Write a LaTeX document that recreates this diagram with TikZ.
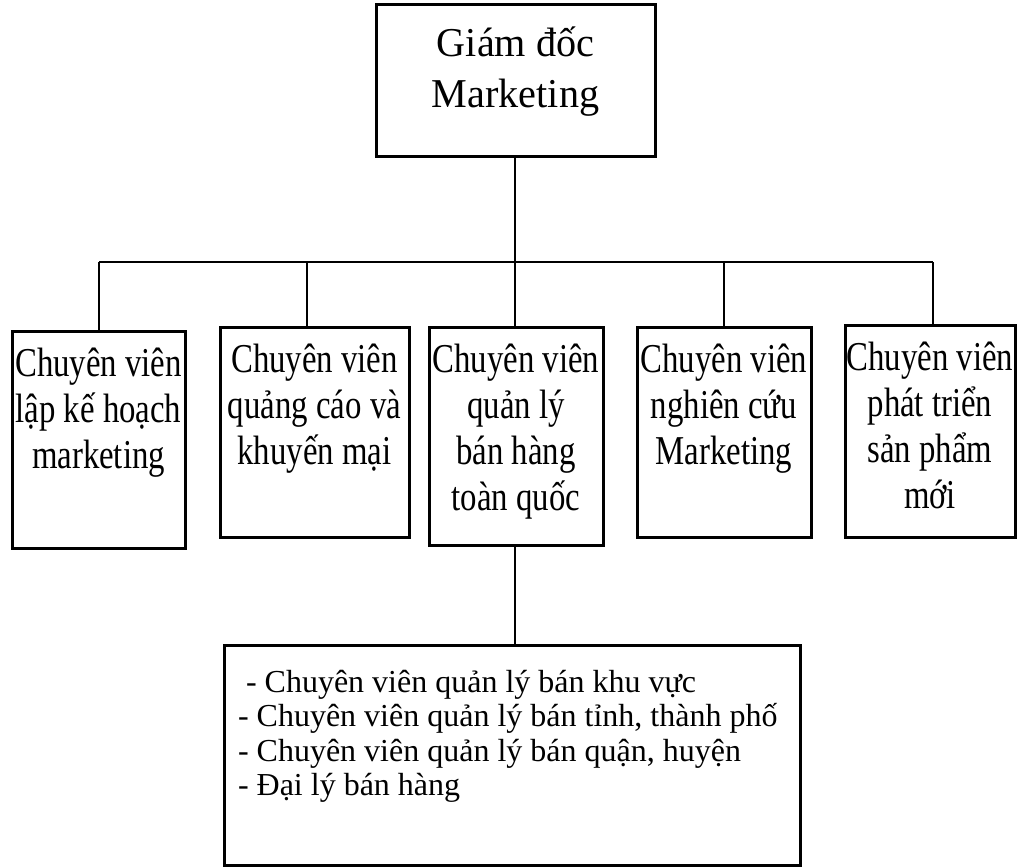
\documentclass[tikz,border=0pt]{standalone}
\usepackage{fontspec}
\setmainfont{Liberation Serif}
\newcommand\sclines[3]{\scalebox{#1}[1]{\begin{tabular}[t]{@{}#2@{}}#3\end{tabular}}}
\begin{document}
\begin{tikzpicture}[x=1pt,y=-1pt,
  box/.style={draw, line width=3pt, inner sep=0pt, outer sep=0pt},
  txt/.style={inner sep=0pt, outer sep=0pt, anchor=base},
  conn/.style={line width=2.4pt},
  bigf/.style={font=\fontsize{41}{51}\selectfont},
  midf/.style={font=\fontsize{41}{46}\selectfont},
  smallf/.style={font=\fontsize{32}{34.5}\selectfont}]
\useasboundingbox (0,0) rectangle (1018,867);
% boxes
\node[box, minimum width=279pt, minimum height=151pt] (top) at (515.5,80.5) {};
\node[box, minimum width=173pt, minimum height=217pt] (b1) at (98.5,439.5) {};
\node[box, minimum width=189pt, minimum height=210pt] (b2) at (314.5,432) {};
\node[box, minimum width=174pt, minimum height=218pt] (b3) at (516,436) {};
\node[box, minimum width=174pt, minimum height=210pt] (b4) at (724,432) {};
\node[box, minimum width=170pt, minimum height=212pt] (b5) at (930,431) {};
\node[box, minimum width=576pt, minimum height=220pt] (bot) at (512,755) {};
% texts
\node[txt, bigf] (ttop) at ([yshift=-52pt]top.north) {\sclines{0.98}{c}{Giám đốc\\Marketing}};
\node[txt, midf] (t1) at ([yshift=-45pt]b1.north) {\sclines{0.80}{c}{Chuyên viên\\lập kế hoạch\\marketing}};
\node[txt, midf] (t2) at ([yshift=-45pt]b2.north) {\sclines{0.80}{c}{Chuyên viên\\quảng cáo và\\khuyến mại}};
\node[txt, midf] (t3) at ([yshift=-45pt]b3.north) {\sclines{0.80}{c}{Chuyên viên\\quản lý\\bán hàng\\toàn quốc}};
\node[txt, midf] (t4) at ([yshift=-45pt]b4.north) {\sclines{0.80}{c}{Chuyên viên\\nghiên cứu\\Marketing}};
\node[txt, midf] (t5) at ([yshift=-45pt]b5.north) {\sclines{0.80}{c}{Chuyên viên\\phát triển\\sản phẩm\\mới}};
\node[txt, smallf, anchor=base west] (tb) at (238,692) {\sclines{1.0}{l}{\hspace{8pt}- Chuyên viên quản lý bán khu vực\\- Chuyên viên quản lý bán tỉnh, thành phố\\- Chuyên viên quản lý bán quận, huyện\\- Đại lý bán hàng}};
% connectors
\coordinate (j1) at (99,262);
\coordinate (j2) at (307,262);
\coordinate (j3) at (515,262);
\coordinate (j4) at (724,262);
\coordinate (j5) at (933,262);
\draw[conn] (top.south -| j3) -- (j3);
\draw[conn] (j1) -- (j5);
\draw[conn] (j1) -- (j1 |- b1.north);
\draw[conn] (j2) -- (j2 |- b2.north);
\draw[conn] (j3) -- (j3 |- b3.north);
\draw[conn] (j4) -- (j4 |- b4.north);
\draw[conn] (j5) -- (j5 |- b5.north);
\draw[conn] (b3.south -| j3) -- (j3 |- bot.north);
\end{tikzpicture}
\end{document}
